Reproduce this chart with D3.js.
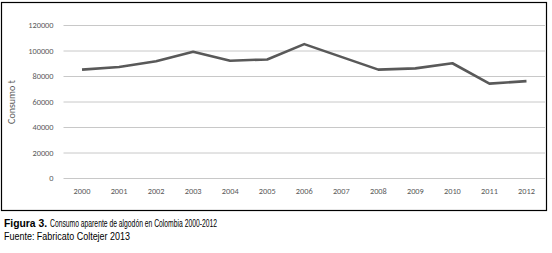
<!DOCTYPE html>
<html><head><meta charset="utf-8">
<script src="https://cdn.jsdelivr.net/npm/d3@7"></script>
<style>html,body{margin:0;padding:0;background:#fff;}</style>
</head><body>
<script>
const years = ["2000","2001","2002","2003","2004","2005","2006","2007","2008","2009","2010","2011","2012"];
const consumo = [85000, 87000, 91500, 99000, 92000, 93000, 105000, 95000, 85000, 86000, 90000, 74000, 76000];
const yTicks = [0, 20000, 40000, 60000, 80000, 100000, 120000];

const W = 552, H = 253;
const svg = d3.select("body").append("svg").attr("width", W).attr("height", H);

svg.append("rect").attr("x", 1.5).attr("y", 2.5).attr("width", 545).attr("height", 208)
  .attr("fill", "#fff").attr("stroke", "#000").attr("stroke-width", 1.2);

const x = d3.scaleBand().domain(years).range([63.5, 545]);
const y = d3.scaleLinear().domain([0, 120000]).range([178, 25]);

const font = "Calibri, Carlito, 'Open Sans', sans-serif";

const gy = svg.append("g").attr("transform", "translate(63.5,0)")
  .call(d3.axisLeft(y).tickValues(yTicks).tickSize(-(545 - 63.5)).tickPadding(10).tickFormat(d3.format("d")));
gy.select(".domain").remove();
gy.selectAll(".tick line").attr("stroke", "#c8c8c8").attr("stroke-width", 1);
gy.selectAll(".tick text").attr("fill", "#595959").style("font-family", font).style("font-size", "8.3px");

const gx = svg.append("g").attr("transform", "translate(0,178)")
  .call(d3.axisBottom(x).tickSize(0).tickPadding(10));
gx.select(".domain").remove();
gx.selectAll(".tick text").attr("fill", "#595959").style("font-family", font).style("font-size", "8.3px");

svg.append("text").attr("transform", "translate(15,102) rotate(-90)")
  .attr("text-anchor", "middle").attr("fill", "#595959")
  .style("font-family", font).style("font-size", "10px").text("Consumo t");

const line = d3.line().x((d, i) => x(years[i]) + x.bandwidth() / 2).y(d => y(d));
svg.append("path").datum(consumo).attr("d", line).attr("fill", "none")
  .attr("stroke", "#595959").attr("stroke-width", 2.6).attr("stroke-linejoin", "round");

const capFont = "'Liberation Sans Narrow', 'Liberation Sans', sans-serif";
svg.append("text").attr("x", 4).attr("y", 227)
  .style("font-family", capFont).style("font-size", "11px").attr("font-weight", "bold")
  .attr("textLength", 43).attr("lengthAdjust", "spacingAndGlyphs").attr("fill", "#000")
  .text("Figura 3.");
svg.append("text").attr("x", 50).attr("y", 227)
  .style("font-family", capFont).style("font-size", "11px")
  .attr("textLength", 167).attr("lengthAdjust", "spacingAndGlyphs").attr("fill", "#000")
  .text("Consumo aparente de algodón en Colombia 2000-2012");
svg.append("text").attr("x", 4).attr("y", 239.5)
  .style("font-family", capFont).style("font-size", "11px")
  .attr("textLength", 126).attr("lengthAdjust", "spacingAndGlyphs").attr("fill", "#000")
  .text("Fuente: Fabricato Coltejer 2013");
</script>
</body></html>
